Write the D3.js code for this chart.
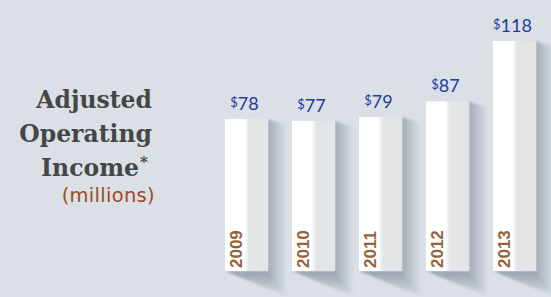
<!DOCTYPE html>
<html>
<head>
<meta charset="utf-8">
<script src="https://d3js.org/d3.v7.min.js"></script>
<style>
    body { margin: 0; background: #dae0e6; }
    svg { display: block; }
    .title { font-family: "DejaVu Serif", serif; font-weight: bold; fill: #454648; }
    .unit { font-family: "DejaVu Sans", sans-serif; font-weight: normal; fill: #9e4b1c; }
    .value { font-family: Lato, "Open Sans", sans-serif; fill: #1c3ca2; }
    .year { font-family: "Liberation Sans", Arial, sans-serif; font-weight: bold; fill: #95633b; }
</style>
</head>
<body>
<script>
    var years = ["2009", "2010", "2011", "2012", "2013"];
    var income = [78, 77, 79, 87, 118];
    var titleLines = ["Adjusted", "Operating", "Income"];
    var unitLabel = "(millions)";

    var w = 551, h = 297;
    var base = 271;

    var svg = d3.select("body").append("svg")
        .attr("width", w)
        .attr("height", h);

    svg.append("rect").attr("width", w).attr("height", h).attr("fill", "#dae0e6");

    var defs = svg.append("defs");

    var barGrad = defs.append("linearGradient").attr("id", "barGrad");
    barGrad.append("stop").attr("offset", "0%").attr("stop-color", "#ffffff");
    barGrad.append("stop").attr("offset", "46%").attr("stop-color", "#ffffff");
    barGrad.append("stop").attr("offset", "52%").attr("stop-color", "#eceded");
    barGrad.append("stop").attr("offset", "57%").attr("stop-color", "#e4e5e7");
    barGrad.append("stop").attr("offset", "100%").attr("stop-color", "#e3e5e7");

    var sideGrad = defs.append("linearGradient").attr("id", "sideGrad");
    sideGrad.append("stop").attr("offset", "0%").attr("stop-color", "#a4adb8");
    sideGrad.append("stop").attr("offset", "100%").attr("stop-color", "#dae0e6");

    var floorGrad = defs.append("linearGradient").attr("id", "floorGrad")
        .attr("x1", 0).attr("y1", 0).attr("x2", 0).attr("y2", 1);
    floorGrad.append("stop").attr("offset", "0%").attr("stop-color", "#99a2ad");
    floorGrad.append("stop").attr("offset", "100%").attr("stop-color", "#dae0e6");

    defs.append("filter").attr("id", "soft")
        .append("feGaussianBlur").attr("stdDeviation", 1);

    var x = d3.scaleBand()
        .domain(years)
        .range([213, 548])
        .paddingInner(0.358)
        .paddingOuter(0.179);

    var y = d3.scaleLinear()
        .domain([0, 118])
        .range([base, 41]);

    var data = years.map(function (d, i) { return { year: d, value: income[i] }; });

    var g = svg.selectAll(".bar")
        .data(data)
        .enter()
        .append("g")
        .attr("class", "bar");

    // cast shadow on the right side
    g.append("path")
        .attr("fill", "url(#sideGrad)")
        .attr("filter", "url(#soft)")
        .attr("d", function (d) {
            var x1 = x(d.year) + x.bandwidth();
            var t = y(d.value);
            return "M" + x1 + "," + t + "L" + (x1 + 19) + "," + (t + 6) +
                "L" + (x1 + 19) + "," + (base + 25) + "L" + x1 + "," + base + "Z";
        });

    // shadow on the floor
    g.append("path")
        .attr("fill", "url(#floorGrad)")
        .attr("filter", "url(#soft)")
        .attr("d", function (d) {
            var x0 = x(d.year);
            var x1 = x0 + x.bandwidth();
            return "M" + x0 + "," + base + "L" + (x1 + 1) + "," + base +
                "L" + (x1 + 20) + "," + (base + 26) + "Z";
        });

    g.append("rect")
        .attr("x", function (d) { return x(d.year); })
        .attr("y", function (d) { return y(d.value); })
        .attr("width", x.bandwidth())
        .attr("height", function (d) { return base - y(d.value); })
        .attr("fill", "url(#barGrad)");

    var val = g.append("text")
        .attr("class", "value")
        .attr("text-anchor", "middle")
        .attr("x", function (d) { return x(d.year) + x.bandwidth() / 2 - 2; })
        .attr("y", function (d) { return y(d.value) - 9; });
    val.append("tspan")
        .attr("font-size", "13px")
        .attr("dy", "-3")
        .text("$");
    val.append("tspan")
        .attr("font-size", "18px")
        .attr("dy", "3")
        .text(function (d) { return d.value; });

    g.append("text")
        .attr("class", "year")
        .attr("font-size", "17px")
        .attr("transform", function (d) {
            return "translate(" + (x(d.year) + 17) + "," + (base - 3) + ") rotate(-90)";
        })
        .text(function (d) { return d.year; });

    // title block
    var titleY = [108, 142, 176];
    svg.selectAll(".title")
        .data(titleLines)
        .enter()
        .append("text")
        .attr("class", "title")
        .attr("font-size", "23.5px")
        .attr("text-anchor", "end")
        .attr("x", function (d, i) { return i === 2 ? 139 : 152; })
        .attr("y", function (d, i) { return titleY[i]; })
        .text(function (d) { return d; });

    svg.append("text")
        .attr("class", "title")
        .attr("font-size", "15px")
        .attr("x", 140)
        .attr("y", 167)
        .text("*");

    svg.append("text")
        .attr("class", "unit")
        .attr("font-size", "19.5px")
        .attr("letter-spacing", "0.3px")
        .attr("text-anchor", "end")
        .attr("x", 155)
        .attr("y", 202)
        .text(unitLabel);
</script>
</body>
</html>
